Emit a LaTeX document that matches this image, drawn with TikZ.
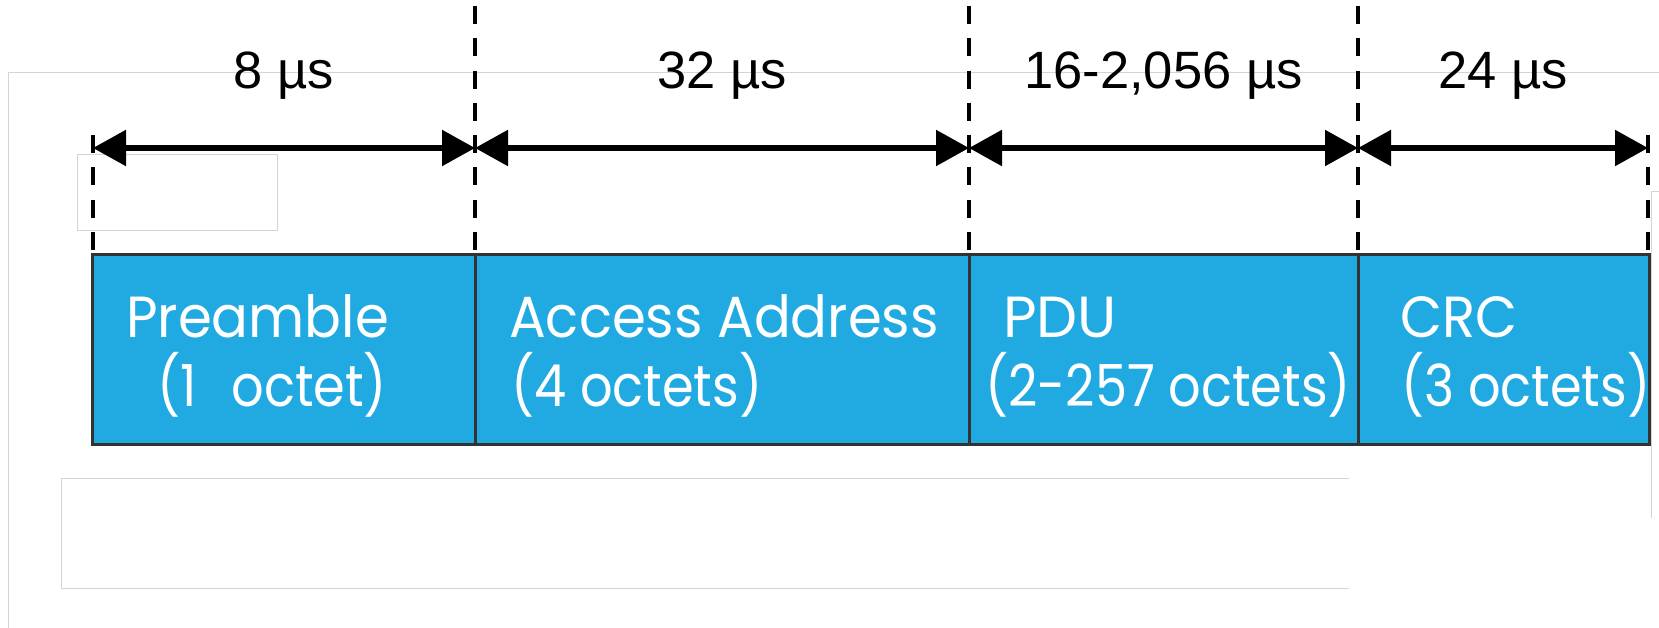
\documentclass[tikz,border=0pt]{standalone}
\usepackage{fontspec}
\setmainfont{Liberation Sans}
\newfontfamily\namefont[FakeStretch=0.94]{Poppins}
\newfontfamily\sizefont[FakeStretch=0.88]{Poppins}
\usetikzlibrary{arrows.meta}

\definecolor{segblue}{RGB}{32,170,225}
\definecolor{segedge}{RGB}{51,51,51}
\definecolor{ghostgray}{RGB}{212,212,212}

\begin{document}
\begin{tikzpicture}[x=1pt,y=-1pt,
  seg/.style={draw=segedge, line width=3pt, fill=segblue, inner sep=0pt, outer sep=0pt,
              anchor=north west, minimum height=189pt},
  tickline/.style={line width=4pt, dash pattern=on 18pt off 14.3pt},
  span/.style={line width=5.5pt,
               {Triangle[length=33pt,width=35pt]}-{Triangle[length=33pt,width=35pt]}},
  dur/.style={font=\fontsize{52.5}{60}\selectfont, anchor=base, inner sep=0pt, yshift=59pt},
  segname/.style={text=white, font=\namefont\fontsize{58}{66}\selectfont,
                   anchor=base west, inner sep=0pt},
  segsize/.style={text=white, font=\sizefont\fontsize{58}{66}\selectfont,
                   anchor=base west, inner sep=0pt},
  ghost/.style={draw=ghostgray, line width=1pt}]

\useasboundingbox (0,0) rectangle (1659,628);

% faint frames in the background
\draw[ghost] (8,628) |- (1659,73);
\draw[ghost] (77,155) rectangle (277,231);
\draw[ghost] (1349,478) -| (61,588) -- (1349,588);
\draw[ghost] (1659,192) -| (1651,518);

% packet fields
\node[seg, minimum width=383pt] (pre) at (92,255) {};
\node[seg, minimum width=494pt] (acc) at (pre.north east) {};
\node[seg, minimum width=389pt] (pdu) at (acc.north east) {};
\node[seg, minimum width=291pt] (crc) at (pdu.north east) {};

% field names
\node[segname] (preA) at (126,337) {Preamble};
\node[segsize] (preB) at (157,406) {(1\hspace{0.6em}octet)};
\node[segname] (accA) at (509,337) {Access Address};
\node[segsize] (accB) at (511,406) {(4 octets)};
\node[segname, font=\fontspec{Poppins}\fontsize{58}{66}\selectfont] (pduA) at (1003,337) {PDU};
\node[segsize] (pduB) at (985,406) {(2-257 octets)};
\node[segname] (crcA) at (1400,337) {CRC};
\node[segsize] (crcB) at (1401,406) {(3 octets)};

% boundary markers
\foreach \n/\x/\y in {0/93/135, 1/475/6, 2/969/6, 3/1358/6, 4/1648/135}{
  \coordinate (top\n) at (\x,\y);
  \coordinate (bot\n) at (\x,250);
  \coordinate (arr\n) at (\x,148);
  \draw[tickline] (top\n) -- (bot\n);
}

% durations
\draw[span] (arr0) -- node[dur] (t0) {8 µs} (arr1);
\draw[span] (arr1) -- node[dur] (t1) {32 µs} (arr2);
\draw[span] (arr2) -- node[dur] (t2) {16-2,056 µs} (arr3);
\draw[span] (arr3) -- node[dur] (t3) {24 µs} (arr4);
\end{tikzpicture}
\end{document}
